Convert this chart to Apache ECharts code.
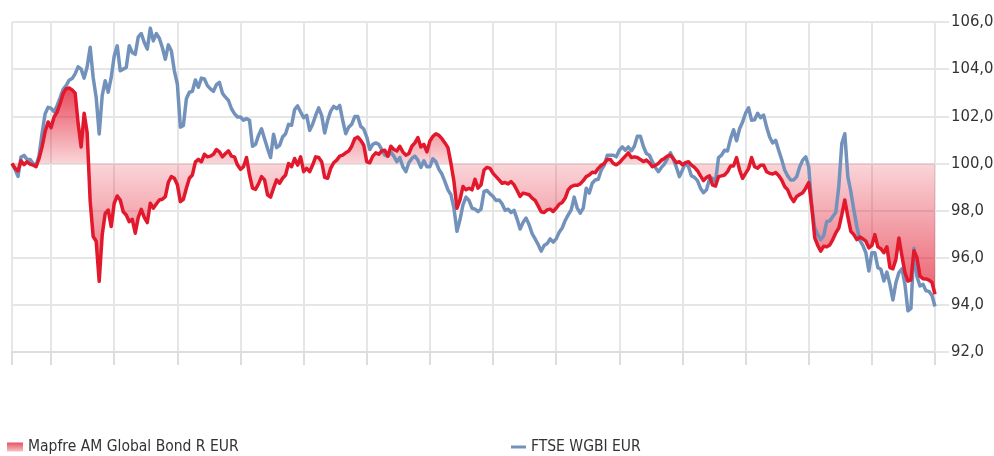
<!DOCTYPE html>
<html>
<head>
<meta charset="utf-8">
<script src="https://cdn.jsdelivr.net/npm/echarts@6/dist/echarts.min.js"></script>
<style>
  html, body { margin: 0; padding: 0; background: #ffffff; }
  #chart { width: 994px; height: 456px; }
</style>
</head>
<body>
<div id="chart"></div>
<script>
// Rebased performance (start = 100), one value per trading day.
const fundName = 'Mapfre AM Global Bond R EUR';
const indexName = 'FTSE WGBI EUR';

const fundValues = [
  100.0, 99.79, 99.68, 100.11, 99.95, 100.07, 99.97, 99.93, 99.86, 100.21,
  100.7, 101.34, 101.76, 101.52, 101.97, 102.18, 102.54, 102.96, 103.17, 103.2,
  103.12, 102.98, 101.69, 100.7, 102.13, 101.3, 98.4, 96.9, 96.7, 95.0,
  96.97, 97.88, 98.02, 97.32, 98.31, 98.62, 98.45, 97.95, 97.81, 97.53,
  97.63, 97.04, 97.71, 98.05, 97.71, 97.49, 98.31, 98.1, 98.28, 98.45,
  98.48, 98.59, 99.2, 99.44, 99.37, 99.1, 98.38, 98.48, 98.95, 99.37,
  99.51, 100.07, 100.17, 100.07, 100.39, 100.28, 100.31, 100.39, 100.59, 100.49,
  100.28, 100.42, 100.53, 100.31, 100.28, 99.93, 99.75, 99.86, 100.25, 99.51,
  98.95, 98.9, 99.13, 99.44, 99.3, 98.67, 98.57, 98.95, 99.3, 99.16,
  99.37, 99.51, 100.0, 99.86, 100.21, 99.93, 100.28, 99.65, 99.79, 99.65,
  99.93, 100.28, 100.25, 100.07, 99.41, 99.37, 99.79, 100.03, 100.14, 100.31,
  100.35, 100.45, 100.53, 100.73, 101.05, 101.12, 100.98, 100.77, 100.07, 100.03,
  100.31, 100.45, 100.39, 100.53, 100.56, 100.31, 100.73, 100.59, 100.53, 100.73,
  100.49, 100.35, 100.42, 100.73, 100.87, 101.1, 100.7, 100.81, 100.49, 100.95,
  101.15, 101.26, 101.19, 101.05, 100.87, 100.67, 100.0, 99.23, 98.1, 98.45,
  99.02, 98.88, 98.95, 98.88, 99.33, 98.95, 99.09, 99.72, 99.83, 99.79,
  99.58, 99.44, 99.3, 99.16, 99.19, 99.13, 99.23, 99.09, 98.85, 98.6,
  98.74, 98.71, 98.67, 98.53, 98.43, 98.2, 97.95, 97.92, 98.03, 98.06,
  97.96, 98.1, 98.27, 98.34, 98.53, 98.88, 99.02, 99.07, 99.07, 99.13,
  99.27, 99.44, 99.51, 99.63, 99.61, 99.79, 99.92, 100.0, 100.17, 100.17,
  100.0, 99.94, 100.03, 100.17, 100.31, 100.45, 100.25, 100.28, 100.25, 100.17,
  100.08, 100.14, 100.03, 99.86, 99.92, 100.0, 100.14, 100.21, 100.31, 100.35,
  100.2, 100.03, 100.07, 99.94, 100.03, 100.07, 99.93, 99.83, 99.69, 99.47,
  99.27, 99.41, 99.47, 99.09, 99.04, 99.44, 99.47, 99.51, 99.65, 99.89,
  99.89, 100.25, 99.72, 99.37, 99.58, 99.78, 100.25, 99.86, 99.8, 99.92,
  99.92, 99.65, 99.58, 99.55, 99.61, 99.49, 99.3, 99.02, 98.88, 98.57,
  98.38, 98.6, 98.68, 98.76, 98.95, 99.19, 98.17, 96.84, 96.52, 96.28,
  96.49, 96.46, 96.54, 96.77, 97.05, 97.26, 97.82, 98.45, 97.75, 97.12,
  96.98, 96.77, 96.88, 96.8, 96.7, 96.42, 96.52, 96.98, 96.46, 96.38,
  96.21, 96.46, 95.58, 95.53, 95.93, 96.84, 96.07, 95.37, 95.01, 95.06,
  96.3, 96.0, 95.22, 95.11, 95.1, 95.05, 94.95, 94.45
];

const indexValues = [
  100.0, 99.75, 99.45, 100.27, 100.34, 100.17, 100.17, 100.0, 99.89, 100.34,
  101.27, 102.1, 102.38, 102.34, 102.19, 102.45, 102.78, 103.14, 103.3, 103.53,
  103.6, 103.8, 104.1, 104.0, 103.62, 104.1, 104.93, 103.65, 102.8, 101.25,
  102.88, 103.51, 103.02, 103.65, 104.56, 104.99, 103.93, 104.0, 104.07, 104.99,
  104.71, 104.63, 105.37, 105.51, 105.13, 104.85, 105.74, 105.2, 105.51, 105.31,
  104.92, 104.42, 105.03, 104.78, 103.93, 103.37, 101.54, 101.61, 102.74, 103.02,
  103.06, 103.54, 103.23, 103.62, 103.58, 103.3, 103.16, 103.06, 103.34, 103.44,
  102.98, 102.81, 102.67, 102.32, 102.11, 101.97, 101.97, 101.83, 101.9, 101.83,
  100.73, 100.81, 101.19, 101.47, 101.05, 100.63, 100.25, 101.24, 100.67, 100.77,
  101.12, 101.26, 101.66, 101.62, 102.28, 102.44, 102.18, 101.94, 102.04, 101.4,
  101.66, 102.04, 102.36, 102.04, 101.29, 101.83, 102.22, 102.42, 102.32, 102.46,
  101.83, 101.26, 101.54, 101.66, 101.99, 101.99, 101.57, 101.46, 101.12, 100.59,
  100.81, 100.87, 100.81, 100.59, 100.35, 100.31, 100.48, 100.31, 100.07, 100.25,
  99.86, 99.65, 100.03, 100.21, 100.31, 100.14, 99.83, 100.11, 99.86, 99.86,
  100.2, 100.07, 99.75, 99.55, 99.23, 98.88, 98.67, 98.1, 97.12, 97.61,
  98.24, 98.57, 98.43, 98.1, 98.06, 97.96, 98.06, 98.81, 98.85, 98.71,
  98.6, 98.43, 98.45, 98.29, 98.01, 98.06, 97.92, 98.01, 97.64, 97.22,
  97.5, 97.68, 97.4, 97.02, 96.8, 96.56, 96.28, 96.52, 96.6, 96.8,
  96.66, 96.8, 97.08, 97.26, 97.58, 97.82, 98.03, 98.57, 98.1, 97.89,
  98.1, 98.95, 98.74, 99.16, 99.3, 99.33, 99.72, 99.93, 100.35, 100.35,
  100.35, 100.28, 100.56, 100.7, 100.56, 100.7, 100.53, 100.73, 101.15, 101.15,
  100.73, 100.42, 100.35, 100.07, 99.83, 99.65, 99.83, 99.97, 100.21, 100.45,
  100.17, 99.83, 99.44, 99.72, 100.03, 99.86, 99.47, 99.41, 99.27, 98.95,
  98.76, 98.88, 99.33, 99.37, 99.23, 100.25, 100.35, 100.56, 100.53, 101.05,
  101.43, 100.96, 101.47, 101.76, 102.13, 102.36, 101.83, 101.85, 102.13, 101.94,
  102.05, 101.54, 101.12, 100.87, 100.98, 100.56, 100.17, 99.72, 99.47, 99.3,
  99.3, 99.44, 99.86, 100.14, 100.28, 99.86, 98.17, 97.26, 96.98, 96.77,
  96.94, 97.54, 97.56, 97.75, 97.92, 99.02, 100.84, 101.26, 99.44, 98.81,
  98.03, 97.33, 96.74, 96.52, 96.21, 95.44, 96.21, 96.21, 95.58, 95.51,
  95.01, 95.39, 94.87, 94.21, 94.94, 95.37, 95.53, 94.87, 93.75, 93.85,
  96.4, 95.2, 94.8, 94.87, 94.6, 94.57, 94.4, 93.93
];

// Trading-day categories; a vertical guide marks the first day of each month.
const tradingDays = fundValues.map((_, i) => i);
const firstMonthStart = 13;
const daysPerMonth = 21;
const isMonthStart = (i) => i === 0 || (i >= firstMonthStart && (i - firstMonthStart) % daysPerMonth === 0);

const yMin = 92, yMax = 106, yStep = 2;
const baseline = 100;

const fundColor = '#e2182d';
const indexColor = '#7292bb';
const gridColor = '#e6e6e6';
const font = '"DejaVu Sans Condensed", "Liberation Sans Narrow", Roboto, sans-serif';

const chart = echarts.init(document.getElementById('chart'), null, { renderer: 'canvas' });

const plotTop = 22, plotBottom = 352;
const off = (v) => (yMax - v) / (yMax - yMin);
const areaFill = new echarts.graphic.LinearGradient(0, plotTop, 0, plotBottom, [
  { offset: 0, color: 'rgba(226,24,45,0.9)' },
  { offset: off(103.2), color: 'rgba(226,24,45,0.78)' },
  { offset: off(baseline), color: 'rgba(226,24,45,0.18)' },
  { offset: off(94), color: 'rgba(226,24,45,0.72)' },
  { offset: 1, color: 'rgba(226,24,45,0.85)' }
], true);

const legendText = { color: '#333333', fontSize: 15.5, fontFamily: font };

chart.setOption({
  animation: false,
  backgroundColor: '#ffffff',
  grid: {
    left: 12, right: 59, top: plotTop, bottom: 456 - plotBottom,
    containLabel: false, outerBoundsMode: 'none'
  },
  legend: [
    {
      left: 7, top: 439, padding: 0, itemWidth: 16, itemHeight: 9, selectedMode: false,
      data: [{
        name: fundName, icon: 'rect',
        itemStyle: { color: new echarts.graphic.LinearGradient(0, 0, 0, 1, [
          { offset: 0, color: '#e4525f' }, { offset: 1, color: '#f6c3c9' }
        ]) }
      }],
      textStyle: legendText
    },
    {
      left: 511, top: 439, padding: 0, itemWidth: 15, itemHeight: 3, selectedMode: false,
      data: [{ name: indexName, icon: 'rect' }],
      textStyle: legendText
    }
  ],
  xAxis: {
    type: 'category',
    data: tradingDays,
    boundaryGap: false,
    axisLine: { show: true, lineStyle: { color: '#dddddd', width: 2 } },
    axisTick: { show: true, interval: isMonthStart, length: 13, lineStyle: { color: '#dddddd', width: 2 } },
    axisLabel: { show: false },
    splitLine: { show: true, interval: isMonthStart, lineStyle: { color: gridColor, width: 2 } }
  },
  yAxis: {
    type: 'value',
    position: 'right',
    min: yMin, max: yMax, interval: yStep,
    axisLine: { show: false },
    axisTick: { show: true, length: 14, lineStyle: { color: gridColor, width: 2 } },
    axisLabel: {
      margin: 16, color: '#333333', fontSize: 16.5, fontFamily: font,
      formatter: (v) => v.toFixed(1).replace('.', ',')
    },
    splitLine: { show: true, lineStyle: { color: gridColor, width: 2 } }
  },
  series: [
    {
      name: indexName,
      type: 'line',
      data: indexValues,
      showSymbol: false,
      symbol: 'none',
      color: indexColor,
      lineStyle: { color: indexColor, width: 3.5, join: 'round' },
      emphasis: { disabled: true }
    },
    {
      name: fundName,
      type: 'line',
      data: fundValues,
      showSymbol: false,
      symbol: 'none',
      color: fundColor,
      lineStyle: { color: fundColor, width: 3.5, join: 'round' },
      areaStyle: { origin: baseline, color: areaFill, opacity: 1 },
      emphasis: { disabled: true }
    }
  ]
});
</script>
</body>
</html>
